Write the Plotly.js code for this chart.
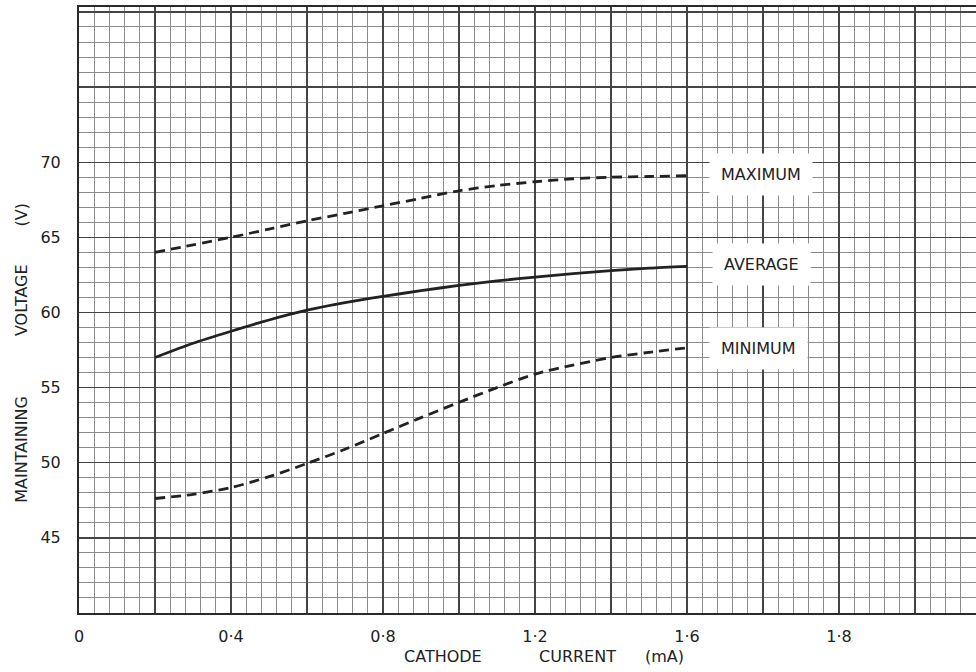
<!DOCTYPE html>
<html>
<head>
<meta charset="utf-8">
<script src="https://cdn.plot.ly/plotly-3.0.1.min.js"></script>
<style>
html,body{margin:0;padding:0;background:#fff;}
#chart{width:976px;height:672px;}
</style>
</head>
<body>
<div id="chart"></div>
<script>
// Cathode current (mA)
const current = [0.2, 0.3, 0.4, 0.5, 0.6, 0.7, 0.8, 0.9, 1.0, 1.1, 1.2, 1.3, 1.4, 1.5, 1.6];
// Maintaining voltage (V)
const maximumV = [64.0, 64.5, 65.0, 65.55, 66.1, 66.6, 67.1, 67.6, 68.1, 68.45, 68.7, 68.9, 69.0, 69.05, 69.1];
const averageV = [57.0, 57.95, 58.75, 59.5, 60.15, 60.65, 61.07, 61.45, 61.8, 62.1, 62.36, 62.58, 62.78, 62.95, 63.07];
const minimumV = [47.62, 47.9, 48.35, 49.07, 49.95, 50.9, 51.95, 53.0, 54.02, 55.0, 55.9, 56.5, 57.0, 57.35, 57.65];

// Axis ticks
const xTickVals = [0, 0.2, 0.4, 0.6, 0.8, 1.0, 1.2, 1.4, 1.6, 1.8, 2.0, 2.2];
const xTickText = ["0", "", "0·4", "", "0·8", "", "1·2", "", "1·6", "", "1·8", ""];
const yTickVals = [40, 45, 50, 55, 60, 65, 70, 75, 80];
const yTickText = ["", "45", "50", "55", "60", "65", "70", "", ""];

// Curve labels
const curveNames = ["MAXIMUM", "AVERAGE", "MINIMUM"];
const labelX = [1.795, 1.797, 1.787];
const labelY = [69.2, 63.2, 57.6];

// Axis title words
const xTitleWords = ["CATHODE", "CURRENT", "(mA)"];
const xTitlePos = [0.958, 1.313, 1.542];
const yTitleWords = ["MAINTAINING", "VOLTAGE", "(V)"];
const yTitlePos = [50.9, 60.8, 66.5];

const FONT = "DejaVu Sans, Verdana, sans-serif";
const INK = "#222222";

const lineStyle = (dash) => ({color: INK, width: 2.8, shape: "spline", smoothing: 0.8, dash: dash});

const traces = [
  {x: current, y: maximumV, mode: "lines", line: lineStyle("10px,6px"), name: curveNames[0], hoverinfo: "skip"},
  {x: current, y: averageV, mode: "lines", line: lineStyle("solid"), name: curveNames[1], hoverinfo: "skip"},
  {x: current, y: minimumV, mode: "lines", line: lineStyle("10px,6px"), name: curveNames[2], hoverinfo: "skip"}
];

const annotations = [];
curveNames.forEach((t, i) => annotations.push({
  x: labelX[i], y: labelY[i], xref: "x", yref: "y", text: t, showarrow: false,
  font: {family: FONT, size: 16, color: INK}, bgcolor: "#ffffff", borderpad: 11,
  xanchor: "center", yanchor: "middle"
}));
xTitleWords.forEach((t, i) => annotations.push({
  x: xTitlePos[i], y: -0.071, xref: "x", yref: "paper", text: t, showarrow: false,
  font: {family: FONT, size: 16, color: INK}, xanchor: "center", yanchor: "middle"
}));
yTitleWords.forEach((t, i) => annotations.push({
  x: -0.064, y: yTitlePos[i], xref: "paper", yref: "y", text: t, showarrow: false, textangle: -90,
  font: {family: FONT, size: 16, color: INK}, xanchor: "center", yanchor: "middle"
}));

const layout = {
  width: 976, height: 672,
  margin: {l: 79, r: 0, t: 7, b: 59},
  paper_bgcolor: "#ffffff", plot_bgcolor: "#ffffff",
  showlegend: false,
  xaxis: {
    range: [0, 2.3605], tickmode: "array", tickvals: xTickVals, ticktext: xTickText,
    showgrid: true, gridcolor: "#454545", gridwidth: 1.3,
    minor: {dtick: 0.04, showgrid: true, gridcolor: "#8c8c8c", gridwidth: 1},
    showline: true, linecolor: "#2a2a2a", linewidth: 2, mirror: true,
    ticks: "", ticklabelstandoff: 8, zeroline: false,
    tickfont: {family: FONT, size: 16, color: INK}
  },
  yaxis: {
    range: [40, 80.33], tickmode: "array", tickvals: yTickVals, ticktext: yTickText,
    showgrid: true, gridcolor: "#454545", gridwidth: 1.3,
    minor: {dtick: 1, showgrid: true, gridcolor: "#8c8c8c", gridwidth: 1},
    showline: true, linecolor: "#2a2a2a", linewidth: 2, mirror: true,
    ticks: "", ticklabelstandoff: 13, zeroline: false,
    tickfont: {family: FONT, size: 16, color: INK}
  },
  annotations: annotations
};

Plotly.newPlot("chart", traces, layout, {displayModeBar: false, staticPlot: true});
</script>
</body>
</html>
